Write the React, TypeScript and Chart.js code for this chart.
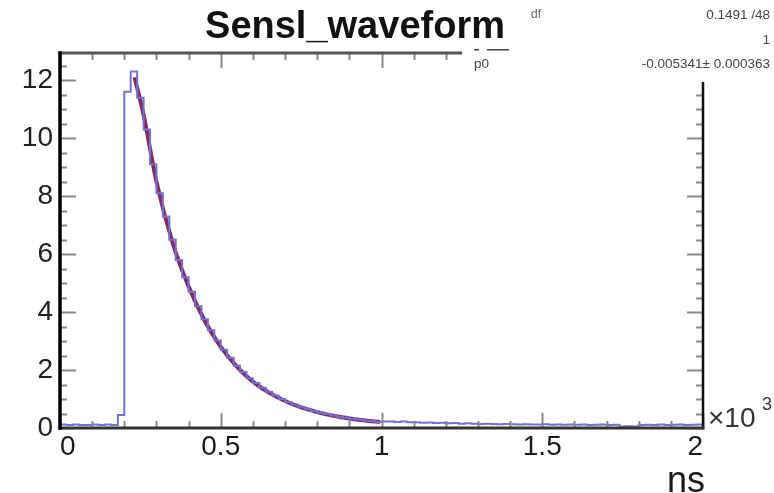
import { useEffect, useRef } from "react";
import { Chart, registerables } from "chart.js";

Chart.register(...registerables);

// Histogram: 100 bins from 0 to 2 (x10^3 ns)
const BIN_START = 0;
const BIN_WIDTH = 0.02;
const histValues = [
  0.12, 0.1, 0.12, 0.1, 0.1, 0.12, 0.1, 0.12, 0.1, 0.45,
  11.6, 12.3, 11.4, 10.3, 9.1, 8.1, 7.3, 6.5, 5.8, 5.2,
  4.7, 4.2, 3.75, 3.37, 3.02, 2.7, 2.42, 2.15, 1.93, 1.72,
  1.55, 1.39, 1.25, 1.12, 1.0, 0.9, 0.81, 0.73, 0.66, 0.59,
  0.53, 0.48, 0.43, 0.39, 0.35, 0.32, 0.29, 0.26, 0.24, 0.21,
  0.22, 0.22, 0.21, 0.22, 0.2, 0.2, 0.18, 0.19, 0.17, 0.18,
  0.16, 0.17, 0.15, 0.16, 0.15, 0.14, 0.15, 0.14, 0.13, 0.14,
  0.13, 0.12, 0.13, 0.12, 0.12, 0.13, 0.11, 0.12, 0.11, 0.12,
  0.11, 0.12, 0.1, 0.11, 0.12, 0.1, 0.11, 0.05, 0.06, 0.05,
  0.1, 0.11, 0.1, 0.12, 0.1, 0.11, 0.12, 0.1, 0.11, 0.12,
];

// Fit curve
const fitX = [0.232, 0.26, 0.3, 0.35, 0.4, 0.45, 0.5, 0.55, 0.6, 0.65, 0.7, 0.75, 0.8, 0.85, 0.9, 0.95, 0.995];
const fitY = [12.1, 10.8, 8.5, 6.4, 4.88, 3.7, 2.8, 2.12, 1.6, 1.22, 0.93, 0.71, 0.55, 0.42, 0.33, 0.26, 0.21];

const X_MIN = 0;
const X_MAX = 2;
const Y_MIN = 0;
const Y_MAX = 12.94;

const titleText = "Sensl_waveform";
const statsLines = ["0.1491 /48", "1", "p0", "-0.005341\u00b1 0.000363"];
const xUnitText = "ns";

const FONT = "'Liberation Sans', Arial, Helvetica, sans-serif";

const decorPlugin = {
  id: "rootDecor",
  afterDatasetsDraw(chart: any) {
    const { ctx, chartArea: a, scales } = chart;
    const x = scales.x;
    const y = scales.y;
    ctx.save();
    // y ticks (inside, left & right)
    ctx.strokeStyle = "#8a8a8a";
    ctx.lineWidth = 2;
    for (let i = 0; i * 0.5 <= Y_MAX; i++) {
      const v = i * 0.5;
      const py = Math.round(y.getPixelForValue(v)) + 0.5;
      const len = i % 4 === 0 ? 16 : 7;
      ctx.beginPath();
      ctx.moveTo(a.left, py);
      ctx.lineTo(a.left + len, py);
      ctx.moveTo(a.right, py);
      ctx.lineTo(a.right - len, py);
      ctx.stroke();
    }
    // x ticks (inside, bottom & top)
    for (let i = 0; i <= 20; i++) {
      const v = i * 0.1;
      const px = Math.round(x.getPixelForValue(v)) + 0.5;
      const len = i % 5 === 0 ? 15 : 7;
      ctx.beginPath();
      ctx.moveTo(px, a.bottom);
      ctx.lineTo(px, a.bottom - len);
      ctx.moveTo(px, a.top);
      ctx.lineTo(px, a.top + len);
      ctx.stroke();
    }
    // frame
    ctx.lineCap = "square";
    ctx.strokeStyle = "#555";
    ctx.lineWidth = 3;
    ctx.beginPath();
    ctx.moveTo(a.left, a.top);
    ctx.lineTo(a.right, a.top);
    ctx.stroke();
    ctx.strokeStyle = "#111";
    ctx.lineWidth = 2.5;
    ctx.beginPath();
    ctx.moveTo(a.right, a.top);
    ctx.lineTo(a.right, a.bottom);
    ctx.stroke();
    ctx.strokeStyle = "#333";
    ctx.lineWidth = 3;
    ctx.beginPath();
    ctx.moveTo(a.left, a.bottom);
    ctx.lineTo(a.right, a.bottom);
    ctx.stroke();
    ctx.strokeStyle = "#000";
    ctx.lineWidth = 3.5;
    ctx.beginPath();
    ctx.moveTo(a.left, a.top);
    ctx.lineTo(a.left, a.bottom);
    ctx.stroke();
    ctx.restore();
  },
  afterDraw(chart: any) {
    const { ctx, chartArea: a } = chart;
    ctx.save();
    // stats box (cut off)
    ctx.fillStyle = "#fff";
    ctx.fillRect(462, 0, 774 - 462, 82);
    ctx.fillStyle = "#444";
    ctx.font = `13.5px ${FONT}`;
    ctx.textBaseline = "middle";
    ctx.textAlign = "right";
    ctx.fillText(statsLines[0], 770, 15);
    ctx.fillText(statsLines[1], 770, 40);
    ctx.fillText(statsLines[3], 770, 64);
    ctx.textAlign = "left";
    ctx.fillText(statsLines[2], 474, 64);
    ctx.fillRect(474, 49, 5, 1.5);
    ctx.fillRect(487, 49, 22, 1.5);
    // title
    ctx.fillStyle = "#111";
    ctx.font = `bold 38px ${FONT}`;
    ctx.textAlign = "center";
    ctx.textBaseline = "alphabetic";
    ctx.fillText(titleText, 355, 38);
    ctx.fillStyle = "#666";
    ctx.font = `12px ${FONT}`;
    ctx.textAlign = "left";
    ctx.fillText("df", 531, 18);
    // x10^3 exponent
    ctx.fillStyle = "#333";
    ctx.font = `28px ${FONT}`;
    ctx.textAlign = "left";
    ctx.textBaseline = "alphabetic";
    ctx.fillText("\u00d710", a.right + 5, 427);
    ctx.font = `18px ${FONT}`;
    ctx.fillText("3", a.right + 59, 410);
    // unit
    ctx.font = `36px ${FONT}`;
    ctx.textAlign = "right";
    ctx.fillStyle = "#1a1a1a";
    ctx.fillText(xUnitText, 705, 492);
    ctx.restore();
  },
};

export default function App() {
  const ref = useRef<HTMLCanvasElement>(null);
  useEffect(() => {
    document.body.style.margin = "0";
    if (!ref.current) return;
    const histPoints = histValues.map((v, i) => ({ x: BIN_START + i * BIN_WIDTH, y: v }));
    histPoints.push({
      x: BIN_START + histValues.length * BIN_WIDTH,
      y: histValues[histValues.length - 1],
    });
    const fitPoints = fitX.map((xv, i) => ({ x: xv, y: fitY[i] }));
    const chart = new Chart(ref.current, {
      type: "line",
      data: {
        datasets: [
          {
            data: histPoints,
            stepped: "before",
            borderColor: "#7272d4",
            borderWidth: 2,
            pointRadius: 0,
            fill: false,
          },
          {
            data: fitPoints,
            borderColor: "#842a60",
            borderWidth: 4,
            pointRadius: 0,
            cubicInterpolationMode: "monotone",
            fill: false,
          },
        ],
      },
      options: {
        responsive: false,
        animation: false,
        layout: { padding: { top: 53, right: 71, left: 0, bottom: 0 } },
        plugins: { legend: { display: false }, tooltip: { enabled: false }, title: { display: false } },
        scales: {
          x: {
            type: "linear",
            min: X_MIN,
            max: X_MAX,
            grid: { display: false, drawTicks: false },
            border: { display: false },
            ticks: {
              stepSize: 0.5,
              includeBounds: false,
              maxRotation: 0,
              align: "inner",
              padding: 2,
              color: "#1a1a1a",
              font: { family: FONT, size: 28 },
              callback: (v: any) => String(Number(v)),
            },
            afterFit(scale: any) {
              scale.height = 65;
            },
          },
          y: {
            type: "linear",
            min: Y_MIN,
            max: Y_MAX,
            grid: { display: false, drawTicks: false },
            border: { display: false },
            ticks: {
              stepSize: 2,
              includeBounds: false,
              padding: 7,
              color: "#222",
              font: { family: FONT, size: 28 },
            },
            afterFit(scale: any) {
              scale.width = 60;
            },
          },
        },
      } as any,
      plugins: [decorPlugin],
    });
    return () => chart.destroy();
  }, []);
  return <canvas ref={ref} width={774} height={493} style={{ display: "block" }} />;
}
